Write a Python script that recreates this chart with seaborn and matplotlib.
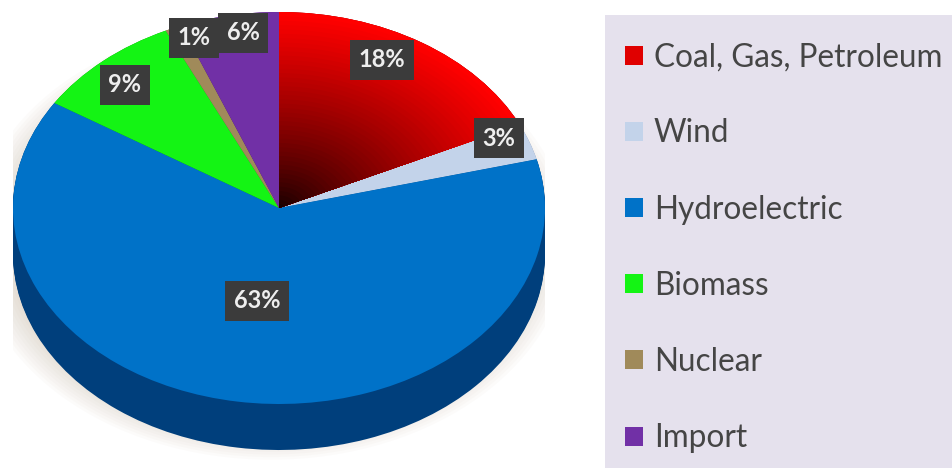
import numpy as np
import matplotlib
matplotlib.use("Agg")
import matplotlib.pyplot as plt
from matplotlib.patches import Ellipse
import seaborn as sns

# ---- data ----
categories = ["Coal, Gas, Petroleum", "Wind", "Hydroelectric", "Biomass", "Nuclear", "Import"]
shares = [18, 3, 63, 9, 1, 6]
pct_labels = ["18%", "3%", "63%", "9%", "1%", "6%"]

# ---- style ----
top_colors = ["#e00000", "#c3d3ea", "#0072c8", "#14f414", "#a08a5a", "#7130a6"]
side_colors = ["#7a0000", "#8a9bb5", "#003f7c", "#0a8a0a", "#6a5a38", "#401860"]
label_dist = [0.85, 0.90, 0.48, 0.855, 0.925, 0.905]
angle_nudge = [-5.3, -3.5, 1, -1.3, 3.2, 2.2]  # degrees, to keep small labels apart

sns.set_theme(style="white")
plt.rcParams["font.family"] = ["DejaVu Sans"]

W, H = 953, 468
fig = plt.figure(figsize=(W / 100, H / 100), dpi=100)
fig.patch.set_facecolor("white")

# pixel geometry of the pie axes
cx_px, a_px = 279, 266          # ellipse centre x, semi-major axis
top_px, b_px = 12, 196          # top of the ellipse, semi-minor axis
depth = 46 / b_px               # thickness in data units (y)
y_bottom = 1 - (H - top_px) / b_px
ax = fig.add_axes([(cx_px - a_px) / W, 0, 2 * a_px / W, (H - top_px) / H])

# soft shadow
for s in np.linspace(1.12, 1.0, 10):
    ax.add_patch(Ellipse((-0.03, -depth * 0.7), 2 * s, 2 * s, color="#bba98f",
                         alpha=0.04, lw=0, zorder=0))

# side (extruded) part
start = 90
for d in np.linspace(depth, 0.0, 40):
    ax.pie(shares, colors=side_colors, startangle=start, counterclock=False,
           center=(0, -d), radius=1, wedgeprops=dict(linewidth=0), frame=True)

# top face
wedges, _ = ax.pie(shares, colors=top_colors, startangle=start, counterclock=False,
                   radius=1, wedgeprops=dict(linewidth=0), frame=True)

# radial gradient on the coal slice
for r in np.linspace(1.0, 0.02, 45):
    col = (0.06 + 0.94 * r ** 0.8, 0.0, 0.0)
    cols = [col] + ["none"] * (len(shares) - 1)
    ax.pie(shares, colors=cols, startangle=start, counterclock=False,
           radius=r, wedgeprops=dict(linewidth=0), frame=True)

# percentage labels
total = sum(shares)
cum = np.cumsum([0] + shares)
for i, lab in enumerate(pct_labels):
    mid = start - 360 * (cum[i] + shares[i] / 2) / total - angle_nudge[i]
    th = np.deg2rad(mid)
    x = label_dist[i] * np.cos(th)
    y = label_dist[i] * np.sin(th)
    ax.text(x, y, lab, ha="center", va="center", color="#eeeeee", fontsize=17,
            fontweight="bold", family="Lato", zorder=10,
            bbox=dict(boxstyle="square,pad=0.36", fc="#3b3b3b", ec="none"))

ax.set_aspect("auto")
ax.set_xlim(-1, 1)
ax.set_ylim(y_bottom, 1)
ax.axis("off")

# legend panel
lx0 = 605
lax = fig.add_axes([lx0 / W, 0, (W - lx0) / W, (H - 15) / H])
lax.set_facecolor("#e5e1ed")
lax.set_xticks([]); lax.set_yticks([])
for s in lax.spines.values():
    s.set_visible(False)
leg = lax.legend(wedges, categories, loc="upper left", bbox_to_anchor=(0.0, 0.985),
                 frameon=False, prop=dict(family="Lato", size=22.7),
                 handlelength=0.55, handleheight=0.55, handletextpad=0.35,
                 labelspacing=1.465, borderaxespad=0.0, borderpad=0.65)
for t in leg.get_texts():
    t.set_color("#454545")

fig.savefig("out.png", dpi=100)
